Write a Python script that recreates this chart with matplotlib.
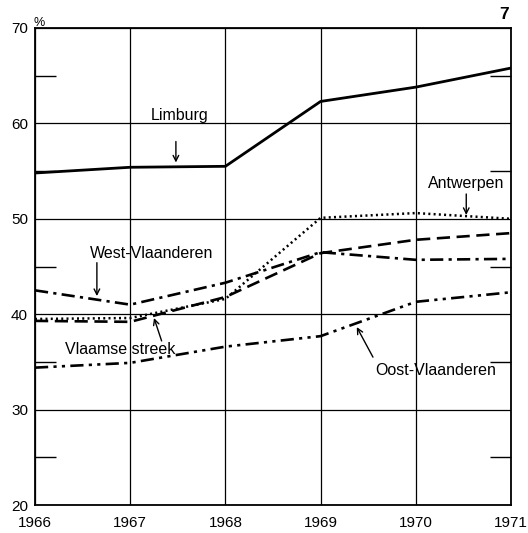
import matplotlib.pyplot as plt
import matplotlib.ticker as mticker

plt.rcParams['font.family'] = ['Liberation Sans', 'DejaVu Sans']

years = [1966, 1967, 1968, 1969, 1970, 1971]
limburg = [54.8, 55.4, 55.5, 62.3, 63.8, 65.8]
antwerpen = [39.5, 39.6, 41.6, 50.1, 50.6, 50.0]
vlaamse_streek = [39.3, 39.2, 41.8, 46.4, 47.8, 48.5]
west_vlaanderen = [42.5, 41.0, 43.3, 46.5, 45.7, 45.8]
oost_vlaanderen = [34.4, 34.9, 36.6, 37.7, 41.3, 42.3]

fig = plt.figure(figsize=(5.28, 5.33), dpi=100)
ax = fig.add_axes([0.0663, 0.0525, 0.9015, 0.895])

ax.plot(years, limburg, color='black', lw=2.0, solid_joinstyle='round')
ax.plot(years, antwerpen, color='black', lw=1.8, linestyle=(0, (0.8, 1.3)))
ax.plot(years, vlaamse_streek, color='black', lw=1.9, linestyle=(0, (5, 2.5)))
ax.plot(years, west_vlaanderen, color='black', lw=1.9,
        linestyle=(0, (5, 2, 1.2, 2)))
ax.plot(years, oost_vlaanderen, color='black', lw=1.9,
        linestyle=(0, (5, 2, 1.2, 2, 1.2, 2)))

ax.set_xlim(1966, 1971)
ax.set_ylim(20, 70)
ax.set_xticks(years)
ax.set_yticks([20, 30, 40, 50, 60, 70])
ax.set_yticklabels(['20', '30', '40', '50', '60', '70'])
ax.yaxis.set_minor_locator(mticker.MultipleLocator(5))
ax.grid(True, which='major', color='black', lw=0.9)
ax.tick_params(which='major', length=0, labelsize=11)
ax.tick_params(axis='x', pad=8)
ax.tick_params(axis='y', pad=5)
ax.tick_params(axis='y', which='minor', direction='in', length=15,
               width=1.0, left=True, right=True)
for s in ax.spines.values():
    s.set_linewidth(1.3)

ax.text(-0.004, 0.998, '%', transform=ax.transAxes, fontsize=9,
        ha='left', va='bottom')
ax.text(0.995, 1.012, '7', transform=ax.transAxes, fontsize=12.5,
        fontweight='bold', ha='right', va='bottom')

fs = 11.5
arrow = dict(arrowstyle='->', color='black', lw=1.0,
             shrinkA=0, shrinkB=0)
ax.annotate('', xy=(1967.48, 55.9), xytext=(1967.48, 58.1), arrowprops=arrow)
ax.text(1967.52, 60.8, 'Limburg', fontsize=fs, ha='center', va='center')

ax.annotate('', xy=(1970.53, 50.4), xytext=(1970.53, 52.6), arrowprops=arrow)
ax.text(1970.53, 53.7, 'Antwerpen', fontsize=fs, ha='center', va='center')

ax.annotate('', xy=(1966.65, 41.9), xytext=(1966.65, 45.4), arrowprops=arrow)
ax.text(1967.23, 46.4, 'West-Vlaanderen', fontsize=fs, ha='center',
        va='center')

ax.annotate('', xy=(1967.25, 39.6), xytext=(1967.33, 37.2), arrowprops=arrow)
ax.text(1966.89, 36.35, 'Vlaamse streek', fontsize=fs, ha='center',
        va='center')

ax.annotate('', xy=(1969.38, 38.65), xytext=(1969.55, 35.5), arrowprops=arrow)
ax.text(1970.21, 34.05, 'Oost-Vlaanderen', fontsize=fs, ha='center',
        va='center')

fig.savefig('out.png', dpi=100)
